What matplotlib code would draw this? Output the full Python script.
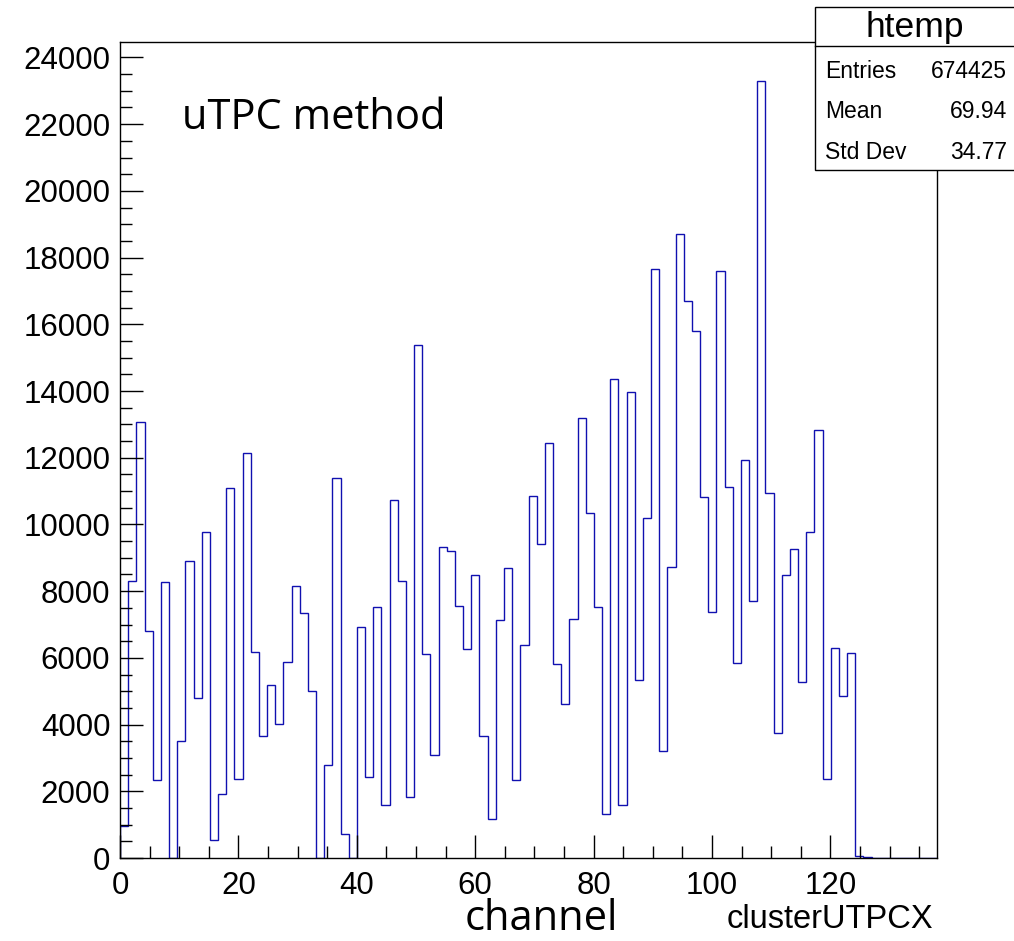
import numpy as np
import matplotlib.pyplot as plt
from matplotlib.patches import Rectangle
from matplotlib.lines import Line2D
from matplotlib.ticker import MultipleLocator

# clusterUTPCX histogram: 100 bins over [0, 138]
n_bins = 100
x_min, x_max = 0.0, 138.0
counts_nonzero = [
    948, 8298, 13068, 6819, 2328, 8280, 0, 3498, 8898, 4800,
    9768, 549, 1920, 11100, 2379, 12150, 6168, 3669, 5190, 4029,
    5880, 8169, 7350, 5013, 0, 2787, 11397, 708, 0, 6918,
    2424, 7518, 1587, 10725, 8313, 1824, 15384, 6120, 3087, 9327,
    9204, 7569, 6255, 8499, 3669, 1182, 7134, 8688, 2343, 6399,
    10839, 9399, 12432, 5829, 4620, 7155, 13179, 10332, 7539, 1308,
    14349, 1599, 13965, 5322, 10179, 17650, 3222, 8709, 18700, 16695,
    15810, 10821, 7362, 17595, 11115, 5859, 11937, 7719, 23298, 10929,
    3750, 8496, 9255, 5271, 9765, 12834, 2355, 6309, 4851, 6153,
    50, 20,
]
counts = np.zeros(n_bins)
counts[:len(counts_nonzero)] = counts_nonzero
edges = np.linspace(x_min, x_max, n_bins + 1)

stats_labels = ["Entries", "Mean", "Std Dev"]
stats_values = ["674425", "69.94", "34.77"]

W, H = 1014, 941
fig = plt.figure(figsize=(W / 100, H / 100), dpi=100)


def fx(px):
    return px / W


def fy(py):
    return 1 - py / H


ax = fig.add_axes([fx(120), fy(858), fx(937) - fx(120), fy(42) - fy(858)])
ax.stairs(counts, edges, color="#1010b0", linewidth=1.0)
ax.set_xlim(x_min, x_max)
ax.set_ylim(0, 1.05 * counts.max())

ax.xaxis.set_major_locator(MultipleLocator(20))
ax.xaxis.set_minor_locator(MultipleLocator(5))
ax.yaxis.set_major_locator(MultipleLocator(2000))
ax.yaxis.set_minor_locator(MultipleLocator(500))
ax.tick_params(which="both", direction="in", top=False, right=False,
               width=1.0, color="black")
ax.tick_params(which="major", length=16.5, labelsize=22.5)
ax.tick_params(which="minor", length=8.3)
ax.tick_params(axis="y", which="major", pad=7)
ax.tick_params(axis="x", which="major", pad=9)
for lbl in ax.get_xticklabels() + ax.get_yticklabels():
    lbl.set_family("Liberation Sans")
for sp in ax.spines.values():
    sp.set_linewidth(1.0)

# axis titles and annotation
fig.text(fx(182), fy(129), "uTPC method", family="Open Sans",
         fontsize=30, va="baseline", ha="left")
fig.text(fx(465), fy(930), "channel", family="Open Sans",
         fontsize=30, va="baseline", ha="left")
fig.text(fx(933), fy(928), "clusterUTPCX", family="Liberation Sans",
         fontsize=23.5, va="baseline", ha="right")

# statistics box
box = Rectangle((fx(815), fy(170)), fx(1020) - fx(815), fy(7) - fy(170),
                transform=fig.transFigure, facecolor="white",
                edgecolor="black", linewidth=1.0, zorder=5)
fig.add_artist(box)
fig.add_artist(Line2D([fx(815), fx(1014)], [fy(46), fy(46)],
                      transform=fig.transFigure, color="black",
                      linewidth=1.0, zorder=6))
fig.text(fx(914.5), fy(37), "htemp", family="Liberation Sans", fontsize=25.5,
         ha="center", va="baseline", zorder=7)
row_base = [78, 118, 159]
for name, val, yb in zip(stats_labels, stats_values, row_base):
    fig.text(fx(825), fy(yb), name, family="Liberation Sans", fontsize=16.5,
             ha="left", va="baseline", zorder=7)
    fig.text(fx(1007), fy(yb), val, family="Liberation Sans", fontsize=16.5,
             ha="right", va="baseline", zorder=7)

fig.savefig("out.png", dpi=100)
